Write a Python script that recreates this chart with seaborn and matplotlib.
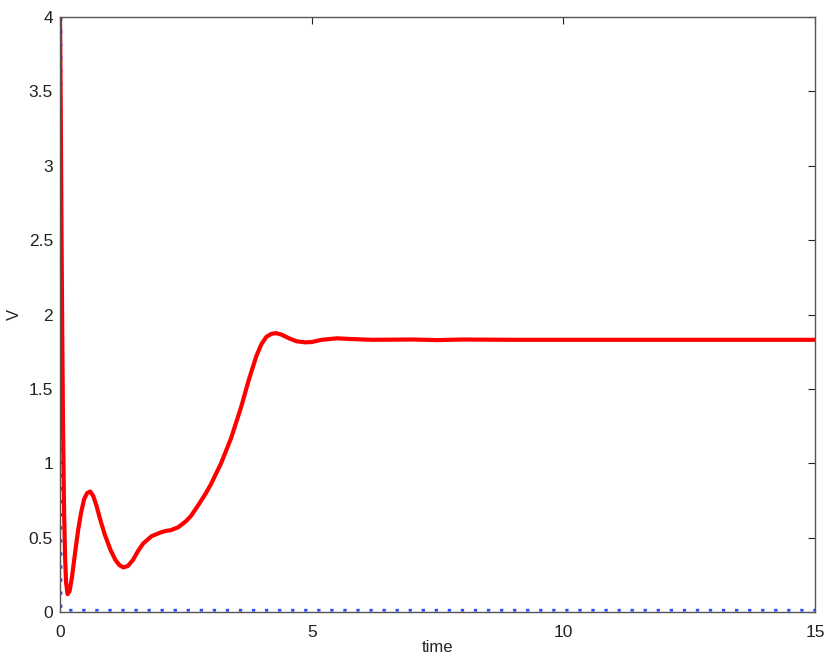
import numpy as np
import pandas as pd
import seaborn as sns
import matplotlib
matplotlib.use("Agg")
from matplotlib import pyplot as plt

# red trace
time = [0.0, 0.01, 0.02, 0.03, 0.045, 0.06, 0.08, 0.1, 0.12, 0.15, 0.19, 0.24, 0.3, 0.36,
        0.42, 0.48, 0.54, 0.6, 0.66, 0.72, 0.8, 0.89, 1.0, 1.1, 1.18, 1.26, 1.35, 1.45,
        1.55, 1.65, 1.82, 2.0, 2.1, 2.2, 2.35, 2.5, 2.6, 2.75, 2.9, 3.0, 3.2, 3.4, 3.6,
        3.75, 3.9, 4.0, 4.1, 4.2, 4.29, 4.4, 4.55, 4.7, 4.87, 5.0, 5.2, 5.5, 5.8, 6.2,
        7.0, 7.5, 8.0, 9.0, 10.0, 12.0, 15.0]
V = [4.0, 3.6, 3.1, 2.55, 1.85, 1.25, 0.7, 0.38, 0.2, 0.12, 0.14, 0.24, 0.4, 0.55,
     0.67, 0.76, 0.8, 0.81, 0.78, 0.72, 0.62, 0.52, 0.42, 0.35, 0.315, 0.30, 0.31, 0.35,
     0.41, 0.46, 0.51, 0.535, 0.545, 0.55, 0.57, 0.61, 0.645, 0.72, 0.80, 0.86, 1.0,
     1.17, 1.38, 1.56, 1.72, 1.80, 1.85, 1.87, 1.875, 1.865, 1.84, 1.82, 1.813, 1.815,
     1.83, 1.84, 1.835, 1.83, 1.832, 1.828, 1.832, 1.83, 1.83, 1.83, 1.83]

# blue trace hugging the axes
blue_t = [0.02, 0.02, 0.05, 15.0]
blue_v = [4.0, 0.02, 0.012, 0.012]

red = pd.DataFrame({"time": time, "V": V})
blue = pd.DataFrame({"time": blue_t, "V": blue_v})

sns.set_style("white")
plt.rcParams["font.family"] = ["Liberation Sans", "DejaVu Sans"]

fig = plt.figure(figsize=(8.3, 6.6), dpi=100)
ax = fig.add_axes([0.0723, 0.0727, 0.9097, 0.9015])

sns.lineplot(data=blue, x="time", y="V", ax=ax, color="#2a4bff", linewidth=2.0,
             linestyle=(0, (1.2, 3.5)), sort=False, estimator=None)
sns.lineplot(data=red, x="time", y="V", ax=ax, color="#ff0000", linewidth=3.0,
             sort=False, estimator=None)

ax.set_xlim(0, 15)
ax.set_ylim(0, 4)
ax.set_xticks([0, 5, 10, 15])
ax.set_xticklabels(["0", "5", "10", "15"])
yt = np.arange(0, 4.01, 0.5)
ax.set_yticks(yt)
ax.set_yticklabels(["0", "0.5", "1", "1.5", "2", "2.5", "3", "3.5", "4"])
ax.tick_params(direction="in", length=5, width=0.8, top=True, right=True,
               labelsize=12.5, colors="#222222")
ax.tick_params(axis="x", pad=9)
ax.tick_params(axis="y", pad=5)
for s in ax.spines.values():
    s.set_color("#555555")
    s.set_linewidth(1.0)
ax.set_xlabel("time", fontsize=12, labelpad=0)
ax.set_ylabel("V", fontsize=12, labelpad=5)

fig.savefig("out.png", dpi=100)
